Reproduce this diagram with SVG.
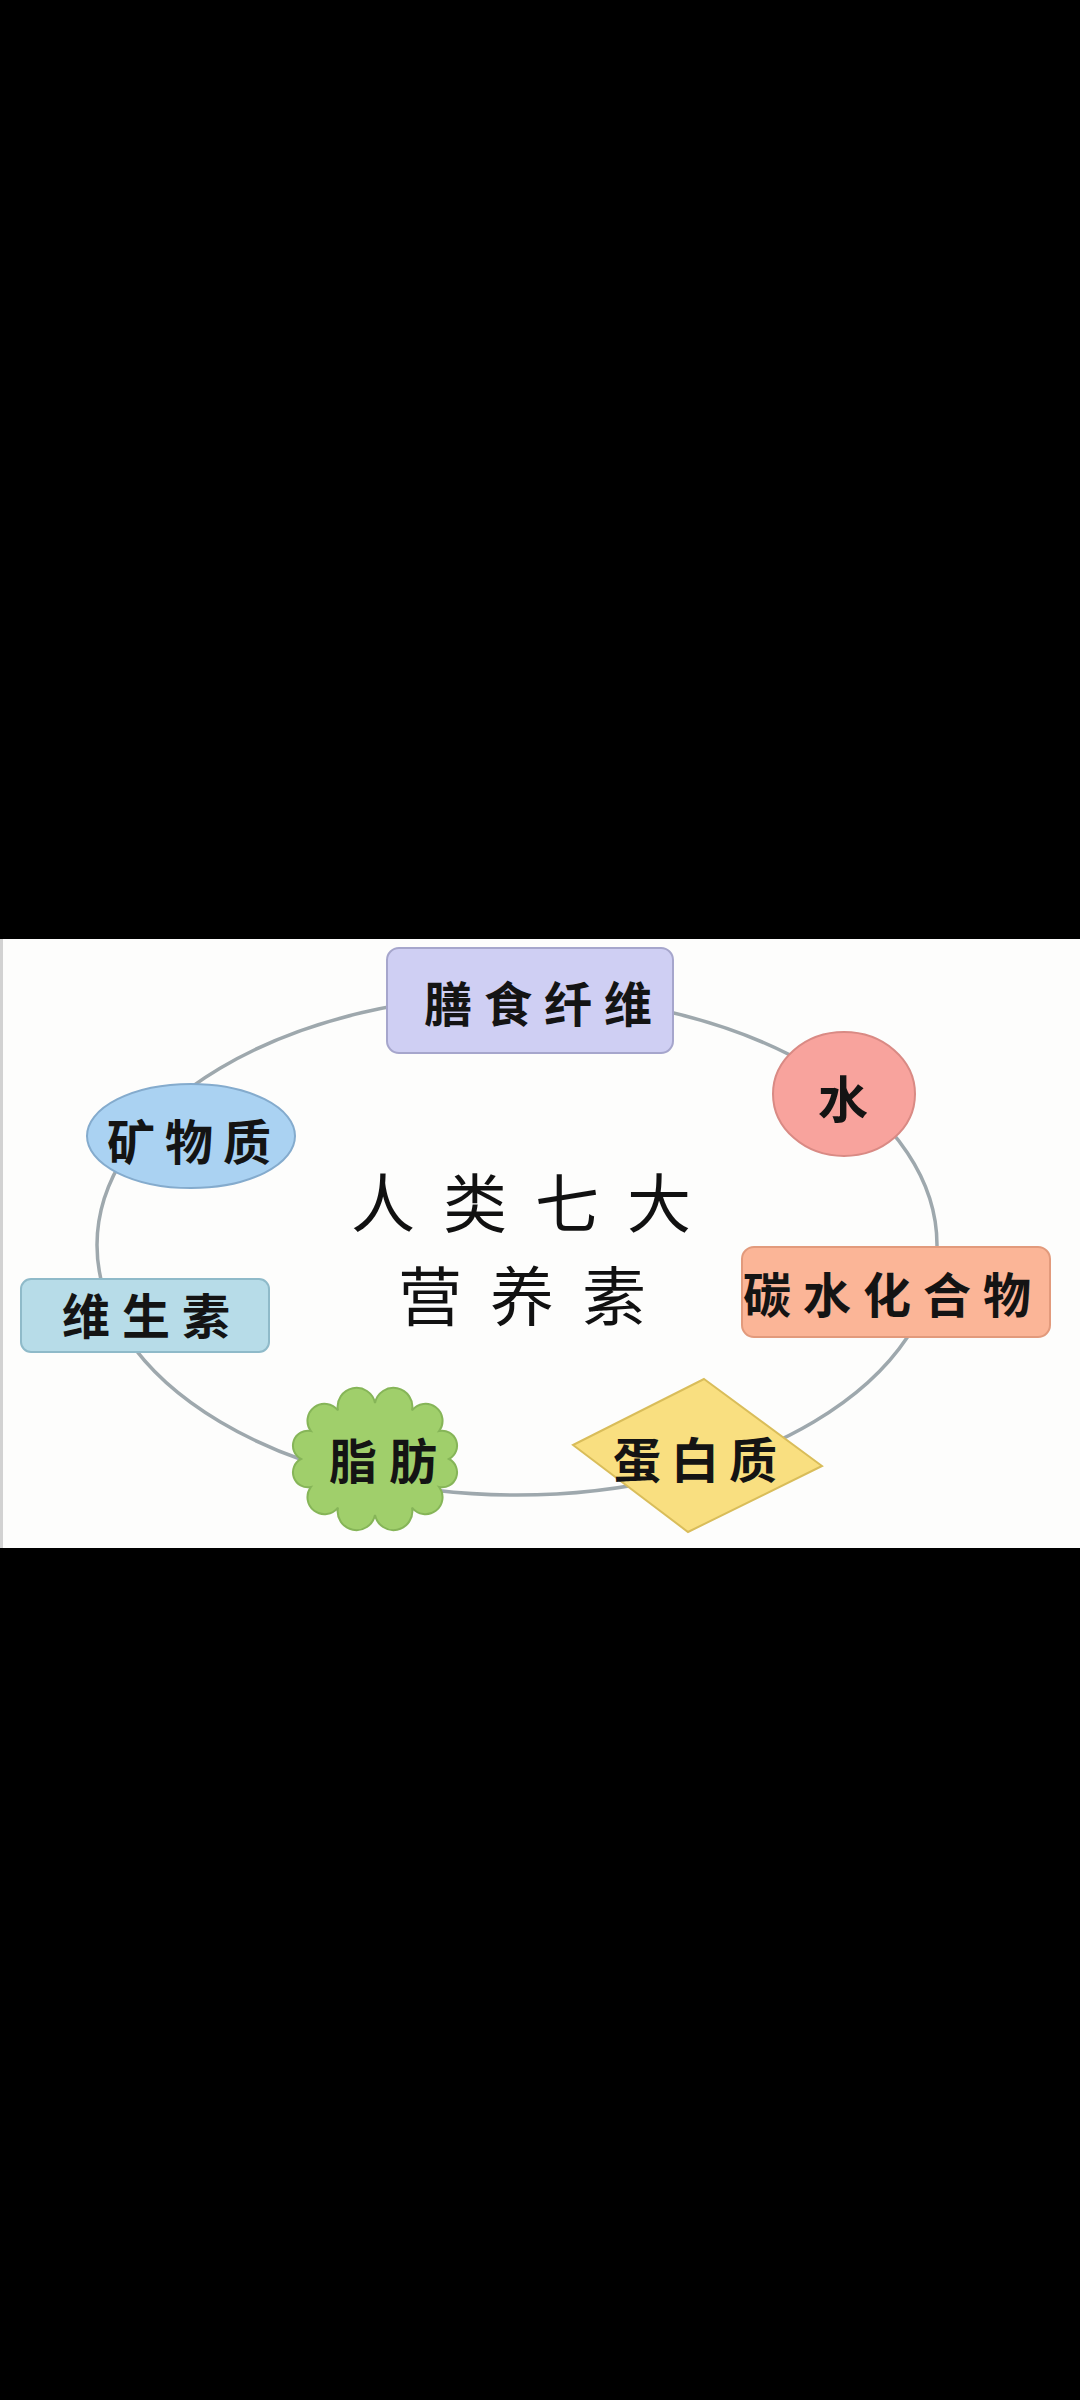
<svg xmlns="http://www.w3.org/2000/svg" width="1080" height="2400" viewBox="0 0 1080 2400">
  <style>
    .lbl { font-family: "Noto Sans CJK SC", "Noto Sans CJK TC", sans-serif; font-size: 48px; font-weight: 700; fill: #141414; text-anchor: middle; dominant-baseline: central; letter-spacing: 12px; }
    .title { font-family: "Noto Sans CJK SC", "Noto Sans CJK TC", sans-serif; font-size: 64px; font-weight: 400; fill: #111; text-anchor: middle; dominant-baseline: central; letter-spacing: 28px; }
    .ring { fill: none; stroke: #9ea8ad; stroke-width: 3.5; }
  </style>
  <rect x="0" y="0" width="1080" height="2400" fill="#000"/>
  <rect x="0" y="939" width="1080" height="609" fill="#fdfdfc"/>
  <rect x="0" y="939" width="3" height="609" fill="#d2d2d2"/>

  <g id="connectors">
    <ellipse class="ring" cx="517" cy="1245" rx="420" ry="250"/>
  </g>

  <g id="title">
    <text class="title" x="535" y="1199">人类七大</text>
    <text class="title" x="536" y="1292">营养素</text>
  </g>

  <g id="node-fiber">
    <rect x="387" y="948" width="286" height="105" rx="12" fill="#cfcff3" stroke="#a6a6cc" stroke-width="2"/>
    <text class="lbl" x="544" y="1001">膳食纤维</text>
  </g>

  <g id="node-water">
    <ellipse cx="844" cy="1094" rx="71" ry="62" fill="#f8a39d" stroke="#d98a84" stroke-width="2"/>
    <text class="lbl" x="849" y="1096" style="font-size:50px">水</text>
  </g>

  <g id="node-carb">
    <rect x="742" y="1247" width="308" height="90" rx="12" fill="#fbb597" stroke="#e29a7c" stroke-width="2"/>
    <text class="lbl" x="893" y="1292">碳水化合物</text>
  </g>

  <g id="node-protein">
    <polygon points="704,1379 822,1466 688,1532 573,1445" fill="#f9df80" stroke="#d9bd5a" stroke-width="2"/>
    <text class="lbl" x="700" y="1457" style="letter-spacing:10px">蛋白质</text>
  </g>

  <g id="node-fat">
    <path d="M449 1459 A15 15 0 0 1 439.1 1487 A15 15 0 0 1 412 1507.5 A15 15 0 0 1 375 1515 A15 15 0 0 1 338 1507.5 A15 15 0 0 1 310.9 1487 A15 15 0 0 1 301 1459 A15 15 0 0 1 310.9 1431 A15 15 0 0 1 338 1410.5 A15 15 0 0 1 375 1403 A15 15 0 0 1 412 1410.5 A15 15 0 0 1 439.1 1431 A15 15 0 0 1 449 1459 Z" fill="#a0cf6b" stroke="#86b558" stroke-width="2"/>
    <text class="lbl" x="389" y="1458">脂肪</text>
  </g>

  <g id="node-vitamin">
    <rect x="21" y="1279" width="248" height="73" rx="10" fill="#b7dce8" stroke="#8fbac9" stroke-width="2"/>
    <text class="lbl" x="152" y="1313">维生素</text>
  </g>

  <g id="node-mineral">
    <ellipse cx="191" cy="1136" rx="104" ry="52" fill="#aad2f2" stroke="#84abcd" stroke-width="2"/>
    <text class="lbl" x="194" y="1139" style="letter-spacing:10px">矿物质</text>
  </g>
</svg>
